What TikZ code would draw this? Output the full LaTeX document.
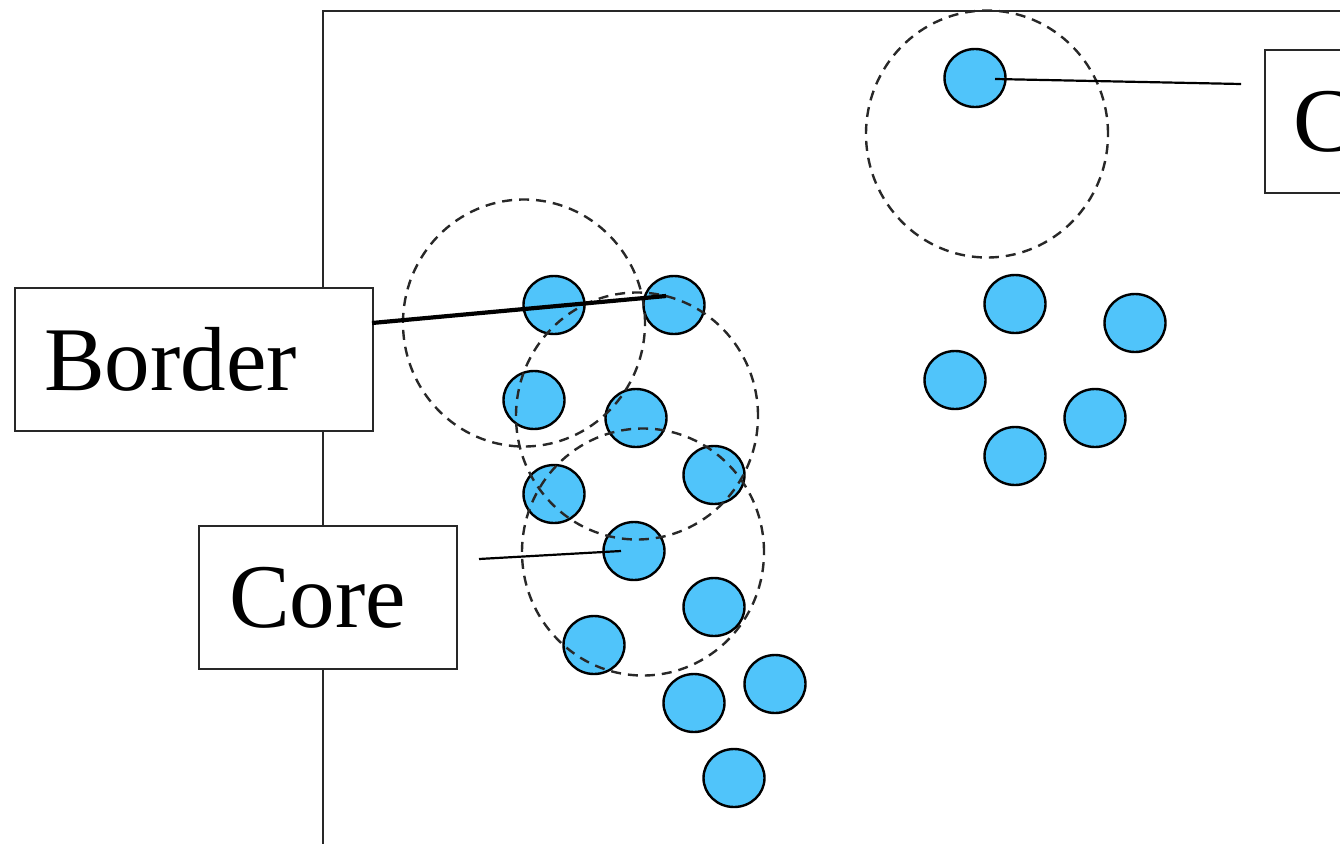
\documentclass[tikz,border=0pt]{standalone}
\usepackage{fontspec}
\setmainfont{Liberation Serif}
\usetikzlibrary{shapes.geometric}
\definecolor{ptfill}{RGB}{80,196,250}
\definecolor{framec}{RGB}{40,40,40}
\definecolor{dashc}{RGB}{40,40,40}
\begin{document}
\begin{tikzpicture}[x=1pt,y=-1pt,
  pt/.style={ellipse, draw=black, line width=2.4, fill=ptfill, minimum width=61, minimum height=58, inner sep=0},
  eps/.style={ellipse, draw=dashc, dash pattern=on 10pt off 7pt, line width=2.4, minimum width=242, minimum height=247, inner sep=0},
  lbl/.style={draw=framec, line width=2.4, fill=white, font=\fontsize{91}{100}\selectfont, minimum height=143, inner ysep=0, align=left},
  lead/.style={draw=black, line width=2.2}
]
\useasboundingbox (0,0) rectangle (1340,843);
% frame
\coordinate (f1) at (323,850);
\coordinate (f2) at (323,11);
\coordinate (f3) at (1350,11);
\draw[framec, line width=2.4] (f1) -- (f2) -- (f3);
% points
\node[pt] (p1) at (975,78) {};
\node[pt] (p2) at (554,305) {};
\node[pt] (p3) at (674,305) {};
\node[pt] (p4) at (534,400) {};
\node[pt] (p5) at (636,418) {};
\node[pt] (p6) at (554,494) {};
\node[pt] (p7) at (714,475) {};
\node[pt] (p8) at (634,551) {};
\node[pt] (p9) at (714,607) {};
\node[pt] (p10) at (594,645) {};
\node[pt] (p11) at (694,703) {};
\node[pt] (p12) at (775,684) {};
\node[pt] (p13) at (734,778) {};
\node[pt] (p14) at (1015,304) {};
\node[pt] (p15) at (1135,323) {};
\node[pt] (p16) at (955,380) {};
\node[pt] (p17) at (1095,418) {};
\node[pt] (p18) at (1015,456) {};
% eps neighbourhoods
\node[eps] (e1) at (524,323) {};
\node[eps] (e2) at (637,416) {};
\node[eps] (e3) at (643,552) {};
\node[eps] (e4) at (987,134) {};
% label boxes
\node[lbl, anchor=north west, text width=300, inner xsep=29] (border) at (14,287) {Border};
\node[lbl, anchor=north west, text width=198, inner xsep=30] (core) at (198,525) {Core};
\node[lbl, anchor=north west, text width=300, inner xsep=28] (other) at (1264,49) {C};
% leaders
\coordinate (bS) at (372,323);
\coordinate (bE) at (666,296);
\draw[lead, line width=4.2] (bS) -- (bE);
\coordinate (cS) at (479,559);
\coordinate (cE) at (621,551);
\draw[lead] (cS) -- (cE);
\coordinate (oS) at (995,79);
\coordinate (oE) at (1241,84);
\draw[lead] (oS) -- (oE);
\end{tikzpicture}
\end{document}
